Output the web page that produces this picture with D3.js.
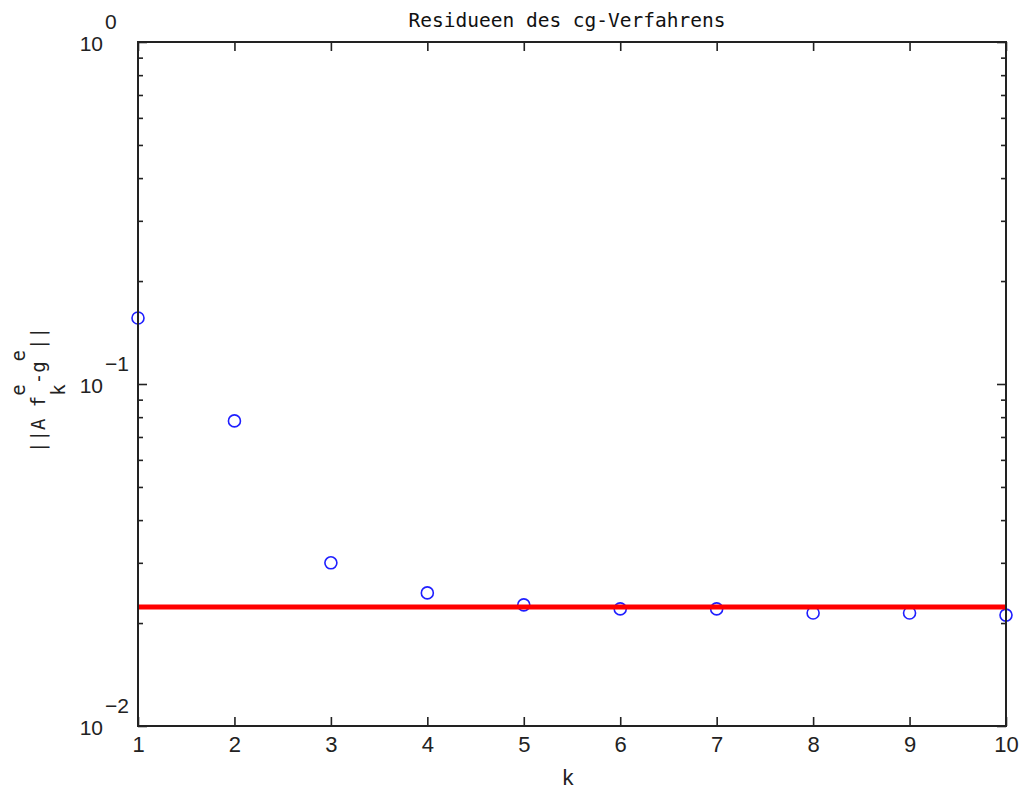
<!DOCTYPE html>
<html><head><meta charset="utf-8">
<script src="https://cdn.jsdelivr.net/npm/d3@7"></script>
<style>
body{margin:0;background:#fff;}
svg{display:block;}
</style></head>
<body>
<script>
const kValues = [1,2,3,4,5,6,7,8,9,10];
const residuals = [0.156,0.078,0.0300,0.0245,0.0226,0.0220,0.0220,0.0214,0.0214,0.0211];
const thresholdValue = [0.0223];
const xTickValues = [1,2,3,4,5,6,7,8,9,10];
const yMajorTicks = [1e-2,1e-1,1e0];
const yTickExponents = ["-2","-1","0"];
const yMinorTicks = [2,3,4,5,6,7,8,9].flatMap(m=>[m*1e-2,m*1e-1]);
const titleText = "Residueen des cg-Verfahrens";
const xLabelText = "k";

const W=1019,H=790;
const m={l:138,r:1006,t:42,b:726};
const svg=d3.select("body").append("svg").attr("width",W).attr("height",H);
const x=d3.scaleLinear().domain([1,10]).range([m.l,m.r]);
const y=d3.scaleLog().domain([1e-2,1e0]).range([m.b,m.t]);
const axisColor="#222";
const tickFont="'Liberation Sans', Arial, sans-serif";
const monoFont="'DejaVu Sans Mono', monospace";

// data: circles first
svg.append("g").selectAll("circle").data(kValues).join("circle")
  .attr("cx",(d)=>x(d)).attr("cy",(d,i)=>y(residuals[i])).attr("r",6)
  .attr("fill","none").attr("stroke","#1f1fff").attr("stroke-width",1.6);

// red threshold line on top
svg.append("g").selectAll("line").data(thresholdValue).join("line")
  .attr("x1",x(1)).attr("x2",x(10)).attr("y1",d=>y(d)).attr("y2",d=>y(d))
  .attr("stroke","#ff0000").attr("stroke-width",5);

function styleAxis(g){
  g.select(".domain").remove();
  g.selectAll(".tick line").attr("stroke",axisColor).attr("stroke-width",1.6);
}
// x axes
const gxb=svg.append("g").attr("transform",`translate(0,${m.b})`)
  .call(d3.axisBottom(x).tickValues(xTickValues).tickSize(-9).tickPadding(10).tickFormat(d3.format("d")));
styleAxis(gxb);
gxb.selectAll(".tick text").attr("font-family",tickFont).attr("font-size",22).attr("fill","#222");
const gxt=svg.append("g").attr("transform",`translate(0,${m.t})`)
  .call(d3.axisTop(x).tickValues(xTickValues).tickSize(-9).tickFormat(""));
styleAxis(gxt);
// y axes majors
const gyl=svg.append("g").attr("transform",`translate(${m.l},0)`)
  .call(d3.axisLeft(y).tickValues(yMajorTicks).tickSize(-9).tickFormat(""));
styleAxis(gyl);
const gyr=svg.append("g").attr("transform",`translate(${m.r},0)`)
  .call(d3.axisRight(y).tickValues(yMajorTicks).tickSize(-9).tickFormat(""));
styleAxis(gyr);
// y minors
const gylm=svg.append("g").attr("transform",`translate(${m.l},0)`)
  .call(d3.axisLeft(y).tickValues(yMinorTicks).tickSize(-5).tickFormat(""));
styleAxis(gylm);
const gyrm=svg.append("g").attr("transform",`translate(${m.r},0)`)
  .call(d3.axisRight(y).tickValues(yMinorTicks).tickSize(-5).tickFormat(""));
styleAxis(gyrm);

// frame
svg.append("rect").attr("x",m.l).attr("y",m.t).attr("width",m.r-m.l).attr("height",m.b-m.t)
  .attr("fill","none").attr("stroke",axisColor).attr("stroke-width",2);

// y tick labels 10^n
const yl=svg.append("g").selectAll("g").data(yMajorTicks).join("g");
yl.append("text").attr("x",103).attr("y",d=>y(d)+9).attr("text-anchor","end")
  .attr("font-family",tickFont).attr("font-size",21).attr("fill","#222").text("10");
yl.append("text").attr("x",105).attr("y",(d)=>y(d)-13).attr("text-anchor","start")
  .attr("font-family",tickFont).attr("font-size",21).attr("fill","#222").text((d,i)=>yTickExponents[i].replace("-","\u2212"));

// title
svg.append("text").attr("x",567).attr("y",27).attr("text-anchor","middle")
  .attr("font-family",monoFont).attr("font-size",19.5).attr("fill","#111").text(titleText);
// x label
svg.append("text").attr("x",568).attr("y",785).attr("text-anchor","middle")
  .attr("font-family",tickFont).attr("font-size",22).attr("fill","#222").text(xLabelText);

// y label: ||A f^e_k-g^e||
const fs=19, adv=fs*0.602;
const ylab=svg.append("g").attr("transform","translate(45,390) rotate(-90)");
const pieces=[
  {t:"||A f",dx:0,dy:0},
  {t:"e",dx:5,dy:-20},
  {t:"k",dx:5,dy:20},
  {t:"-g",dx:6,dy:0},
  {t:"e",dx:8,dy:-20},
  {t:"||",dx:9,dy:0}
];
const total=11*adv;
ylab.selectAll("text").data(pieces).join("text")
  .attr("x",d=>-total/2+d.dx*adv).attr("y",d=>d.dy)
  .attr("font-family",monoFont).attr("font-size",fs).attr("fill","#222")
  .text(d=>d.t);
</script>
</body></html>
